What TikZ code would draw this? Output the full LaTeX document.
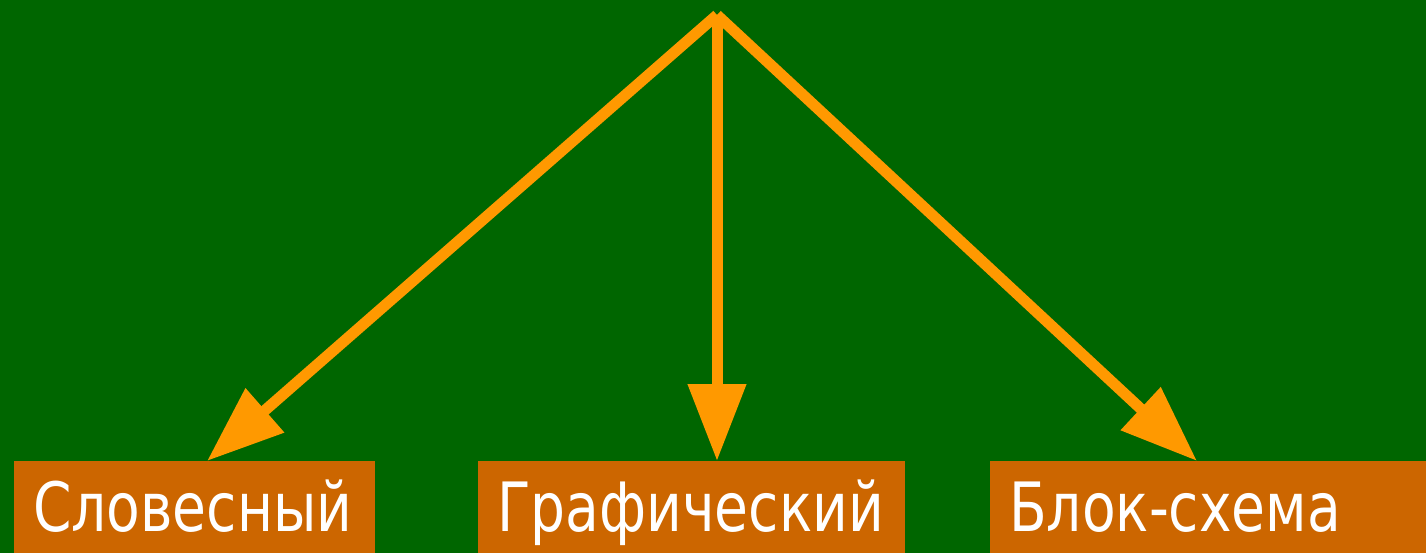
\documentclass[tikz,border=0pt]{standalone}
\usepackage{fontspec}
\setmainfont[FakeStretch=0.9]{DejaVu Sans Condensed}
\usetikzlibrary{arrows.meta}
\definecolor{bggreen}{HTML}{006600}
\definecolor{arroworange}{HTML}{FF9900}
\definecolor{boxorange}{HTML}{CC6600}
\tikzset{
  conn/.style={draw=arroworange, line width=11pt, -{Triangle[length=77pt,width=56pt]}, arroworange},
  boxnode/.style={fill=boxorange, text=white, anchor=north west, minimum height=92pt,
    inner xsep=19pt, inner ysep=0pt, align=left, text height=49pt, text depth=0pt,
    font=\fontsize{68}{80}\selectfont}
}
\begin{document}
\begin{tikzpicture}[x=1pt,y=-1pt]
  \fill[bggreen] (0,0) rectangle (1426,553);
  \useasboundingbox (0,0) rectangle (1426,553);
  \node[boxnode, minimum width=361pt, text width=323pt] (b1) at (14,461) {Словесный};
  \node[boxnode, minimum width=427pt, text width=389pt] (b2) at (478,461) {Графический};
  \node[boxnode, minimum width=436pt, text width=398pt] (b3) at (990,461) {Блок-схема};
  \coordinate (top) at (717,15);
  \draw[conn] (top) -- (207,0 |- b1.north);
  \draw[conn] (top) -- (717,0 |- b2.north);
  \draw[conn] (top) -- (1197,0 |- b3.north);
\end{tikzpicture}
\end{document}
